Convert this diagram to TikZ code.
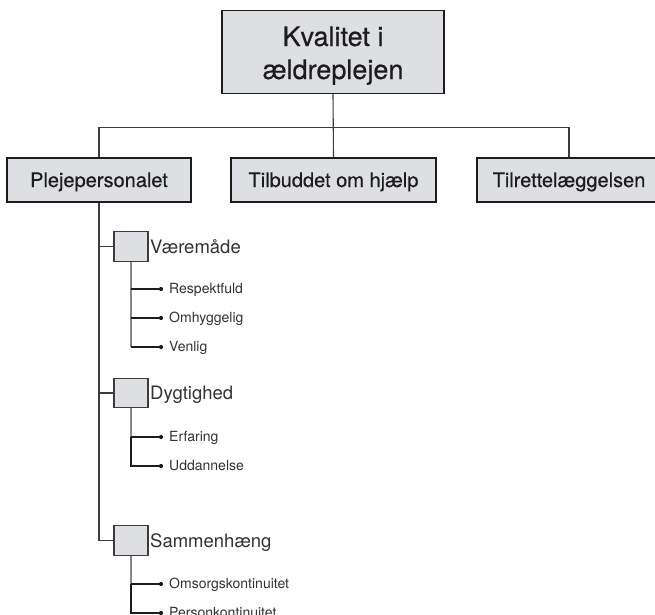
\documentclass[tikz,border=0pt]{standalone}
\usepackage{fontspec}
\setmainfont{TeX Gyre Heros}
\newfontfamily\mediumface{TeX Gyre Heros}[FakeBold=0.45]
\definecolor{boxfill}{RGB}{222,223,226}
\definecolor{ink}{RGB}{28,28,30}
\definecolor{softink}{RGB}{50,50,52}
\definecolor{lineink}{RGB}{60,60,62}
\definecolor{stemgray}{RGB}{135,135,138}
\tikzset{
  bigbox/.style={draw=ink, line width=1.3pt, fill=boxfill, inner sep=0pt},
  headbox/.style={bigbox, minimum height=44pt, text height=14pt, text depth=0pt,
    font=\mediumface\fontsize{20}{24}\selectfont, text=ink},
  smallbox/.style={draw=lineink, line width=1.1pt, fill=boxfill, inner sep=0pt,
    minimum width=34pt, minimum height=29.5pt},
  midlabel/.style={anchor=base west, inner sep=0pt, text=softink,
    font=\fontsize{18.5}{22}\selectfont},
  leaflabel/.style={anchor=base west, inner sep=0pt, text=softink,
    font=\fontsize{14}{17}\selectfont},
  toptext/.style={anchor=base, inner sep=0pt, text=ink,
    font=\mediumface\fontsize{27}{33}\selectfont},
  bullet/.style={circle, fill=ink, inner sep=0pt, minimum size=4.2pt},
  conn/.style={draw=lineink, line width=1.1pt},
  stem/.style={draw=stemgray, line width=1.1pt},
  twig/.style={draw=ink, line width=1.1pt},
}
\begin{document}
\begin{tikzpicture}[x=1pt,y=-1pt]
\useasboundingbox (0,0) rectangle (655,614);

% root box
\node[bigbox, minimum width=222pt, minimum height=83pt] (top) at (333,51.7) {};
\node[toptext] (topa) at (333,46) {Kvalitet i};
\node[toptext] (topb) at (333,79) {ældreplejen};

% three headings
\node[headbox, minimum width=184pt] (p1) at (99,180) {Plejepersonalet};
\node[headbox, minimum width=205pt] (p2) at (333.5,180) {Tilbuddet om hjælp};
\node[headbox, minimum width=184pt] (p3) at (569,180) {Tilrettelæggelsen};

\draw[conn] (top.south) -- (p2.north);
\draw[conn] (p1.north) -- ++(0,-30) -| (p3.north);

% sub-groups under Plejepersonalet
\node[smallbox] (s1) at (131,246.5) {};
\node[smallbox] (s2) at (131,393) {};
\node[smallbox] (s3) at (131,540.5) {};
\node[midlabel] (m1) at (150,253) {Væremåde};
\node[midlabel] (m2) at (150,399.5) {Dygtighed};
\node[midlabel] (m3) at (150,547) {Sammenhæng};

\draw[conn] (p1.south) -- (p1.south |- s3.west) -- (s3.west);
\draw[conn] (p1.south |- s1.west) -- (s1.west);
\draw[conn] (p1.south |- s2.west) -- (s2.west);

% leaves
\node[bullet] (d11) at (161,289) {};
\node[bullet] (d12) at (161,318) {};
\node[bullet] (d13) at (161,347) {};
\node[bullet] (d21) at (161,437) {};
\node[bullet] (d22) at (161,466) {};
\node[bullet] (d31) at (161,584) {};
\node[bullet] (d32) at (161,613) {};

\node[leaflabel] (t11) at (169,293.5) {Respektfuld};
\node[leaflabel] (t12) at (169,322.5) {Omhyggelig};
\node[leaflabel] (t13) at (169,351.5) {Venlig};
\node[leaflabel] (t21) at (169,441.5) {Erfaring};
\node[leaflabel] (t22) at (169,470.5) {Uddannelse};
\node[leaflabel] (t31) at (169,588.5) {Omsorgskontinuitet};
\node[leaflabel] (t32) at (169,617.5) {Personkontinuitet};

\draw[stem] (s1.south) -- (s1.south |- d13);
\draw[twig] (s1.south |- d11) -- (d11);
\draw[twig] (s1.south |- d12) -- (d12);
\draw[twig] (s1.south |- d13) -- (d13);

\draw[stem] (s2.south) -- (s2.south |- d21);
\draw[twig] (s2.south |- d21) -- (d21);
\draw[twig] (s2.south |- d21) -- (s2.south |- d22) -- (d22);

\draw[stem] (s3.south) -- (s3.south |- d31);
\draw[twig] (s3.south |- d31) -- (d31);
\draw[twig] (s3.south |- d31) -- (s3.south |- d32) -- (d32);
\end{tikzpicture}
\end{document}
